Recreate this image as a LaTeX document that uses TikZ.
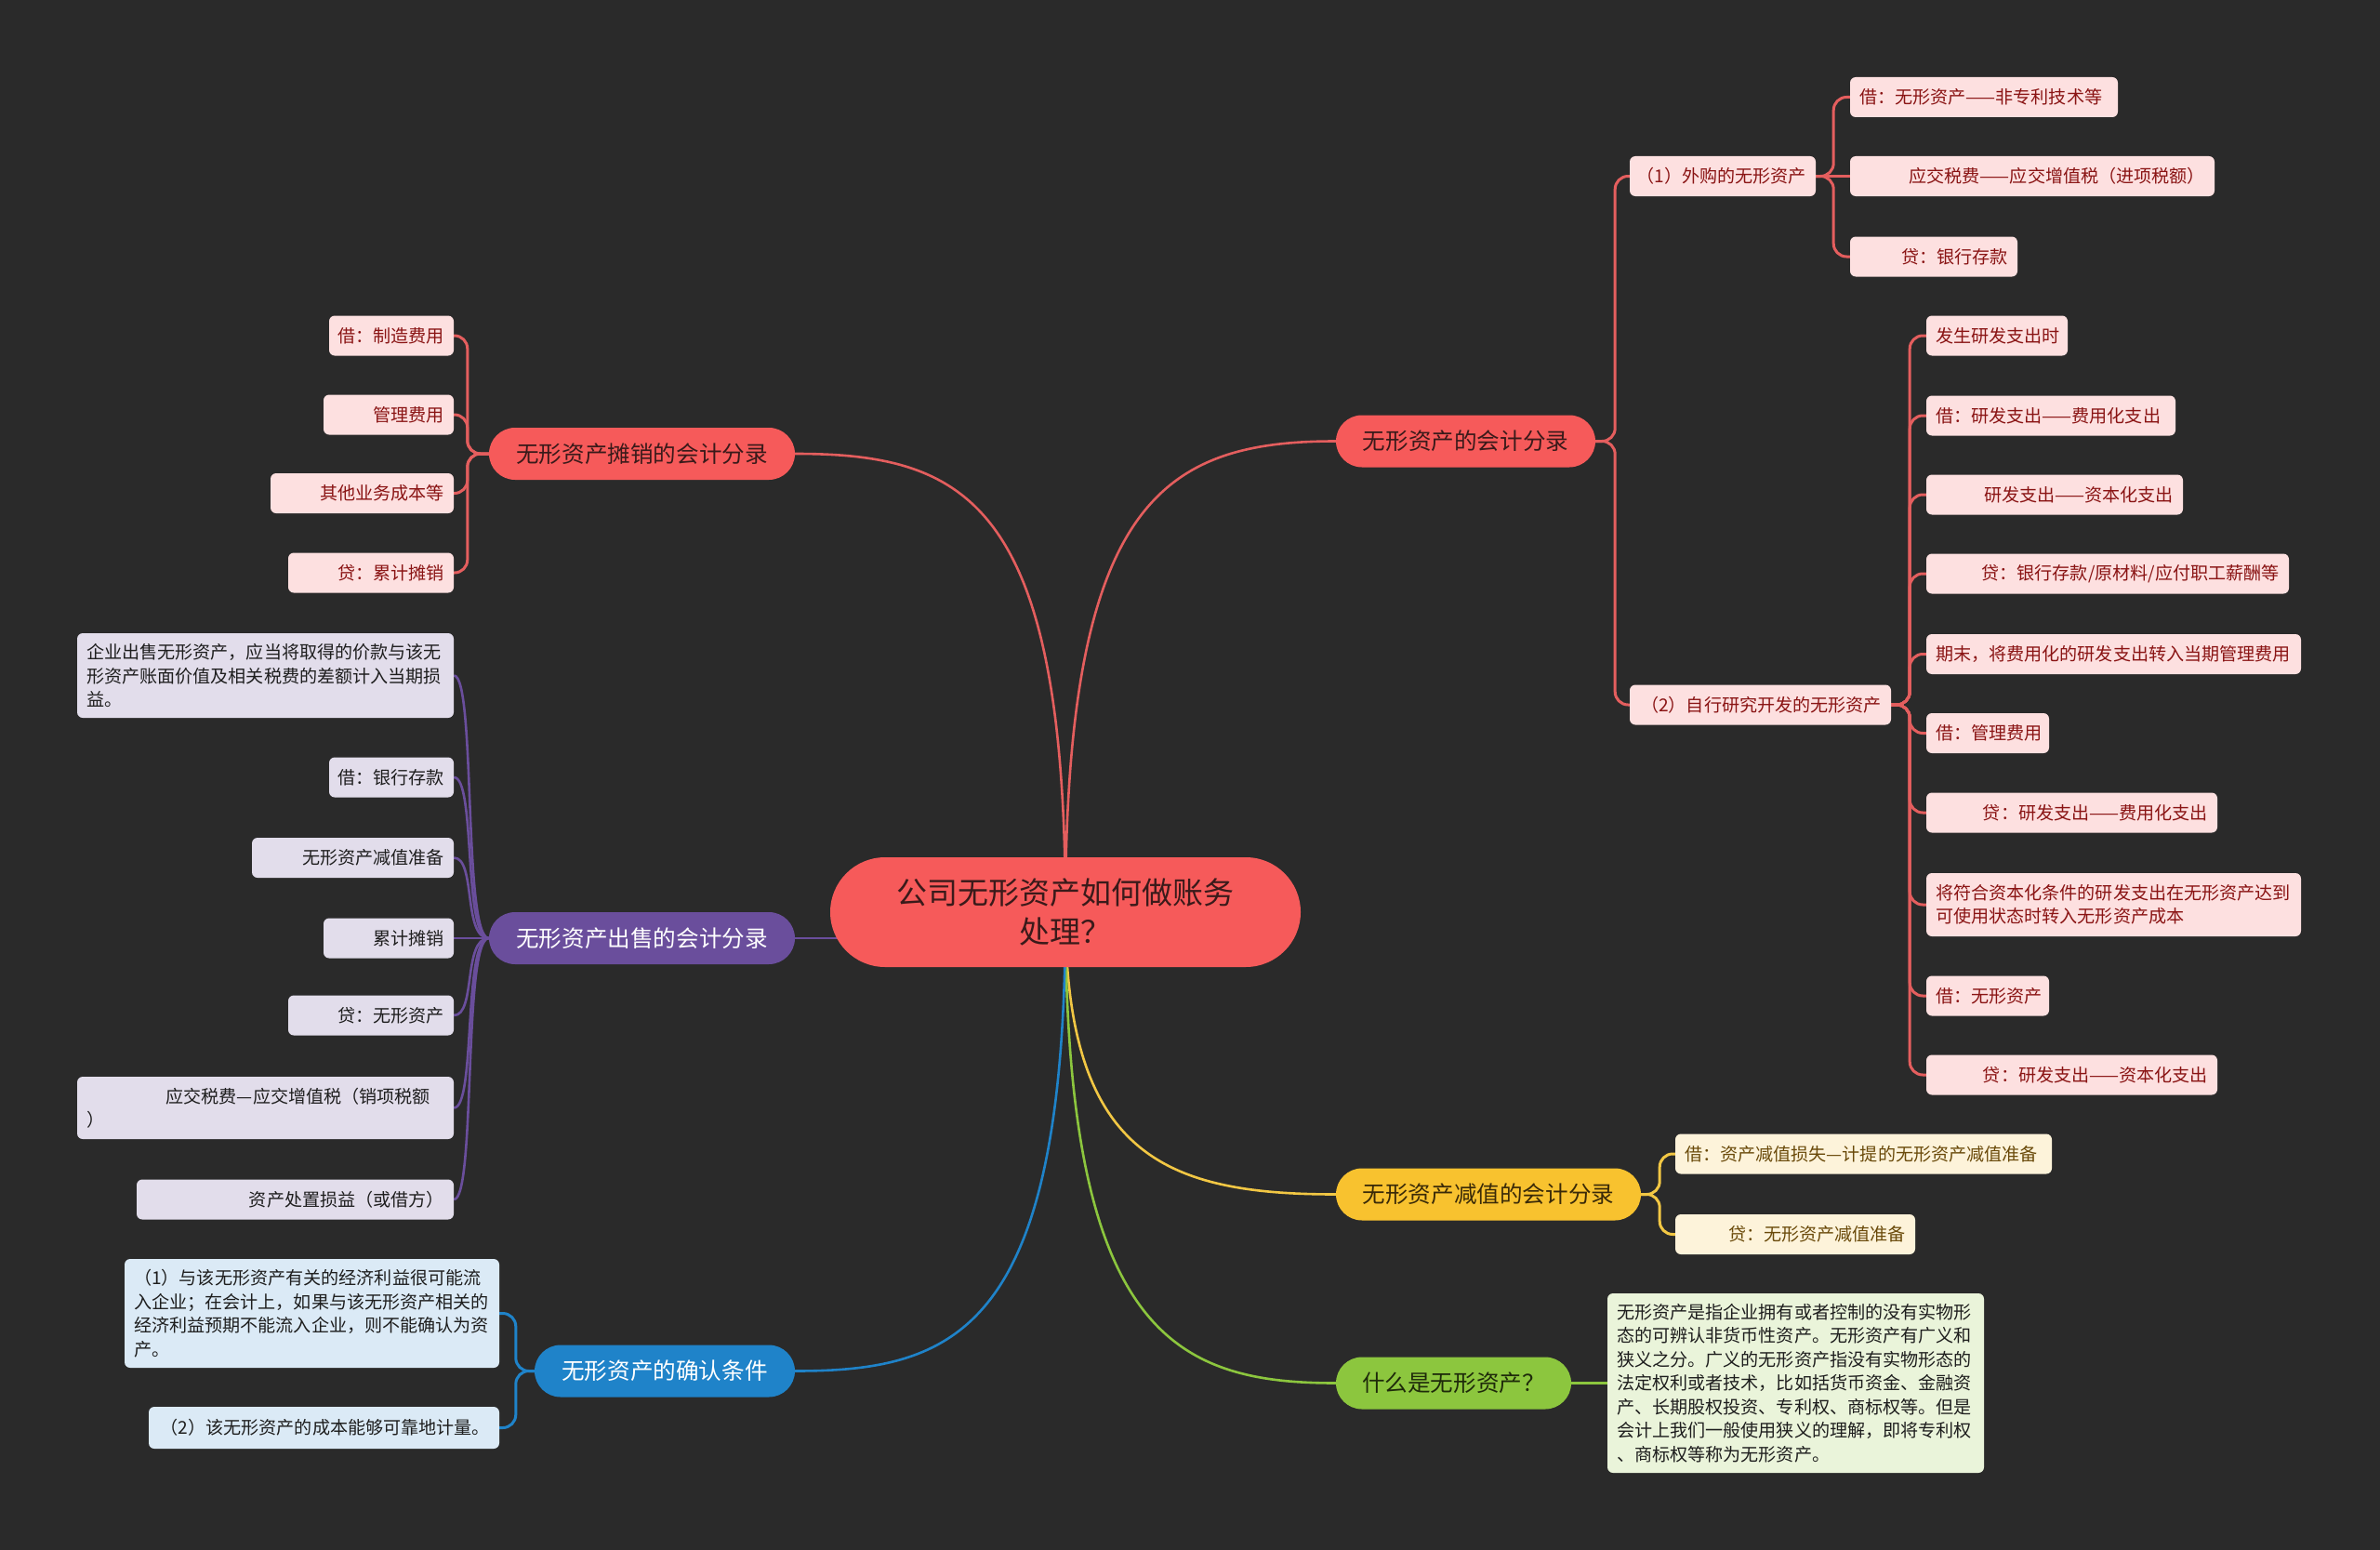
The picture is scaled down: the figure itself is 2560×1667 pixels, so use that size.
\documentclass[tikz,border=0pt]{standalone}
\usepackage{fontspec}
\setmainfont{Noto Sans CJK SC}
\pgfdeclarelayer{backdrop}
\pgfdeclarelayer{bg}
\pgfsetlayers{backdrop,bg,main}
\definecolor{cBg}{HTML}{2A2A2A}
\definecolor{cRed}{HTML}{F65A5A}
\definecolor{cRedLine}{HTML}{E45E5E}
\definecolor{cRedDark}{HTML}{3A1A1A}
\definecolor{cRedFill}{HTML}{FDE0E0}
\definecolor{cRedText}{HTML}{8A1414}
\definecolor{cPur}{HTML}{6A4E9C}
\definecolor{cPurFill}{HTML}{E2DDEB}
\definecolor{cBlue}{HTML}{1F83C9}
\definecolor{cBlueFill}{HTML}{DBEAF6}
\definecolor{cYel}{HTML}{F8C22F}
\definecolor{cYelLine}{HTML}{F2C744}
\definecolor{cYelDark}{HTML}{3A2A08}
\definecolor{cYelFill}{HTML}{FDF3DA}
\definecolor{cYelText}{HTML}{6A4A0A}
\definecolor{cGrn}{HTML}{8CC63E}
\definecolor{cGrnDark}{HTML}{1E2A0A}
\definecolor{cGrnFill}{HTML}{EAF4DA}
\definecolor{cDarkText}{HTML}{1E1E1E}
\newcommand\leaffont{\fontsize{19.1pt}{25.5pt}\selectfont}
\newcommand\topicfont{\fontsize{24.6pt}{30pt}\selectfont}
\newcommand\rootfont{\fontsize{33pt}{42pt}\selectfont}
\newcommand\myr[2]{\makebox[#1pt][r]{#2}}
\newcommand\myl[2]{\makebox[#1pt][l]{#2}}
\tikzset{
  rootnode/.style={fill=cRed, text=cRedDark, rounded corners=59pt, minimum width=506pt, minimum height=118pt, align=center, font=\rootfont, inner sep=0pt},
  topic/.style={rounded corners=28pt, minimum height=56pt, inner sep=0pt, font=\topicfont},
  leaf/.style={rounded corners=6pt, inner xsep=10pt, inner ysep=0pt, font=\leaffont, minimum height=43pt},
  redleaf/.style={leaf, fill=cRedFill, text=cRedText},
  purleaf/.style={leaf, fill=cPurFill, text=cDarkText},
  blueleaf/.style={leaf, fill=cBlueFill, text=cDarkText},
  yelleaf/.style={leaf, fill=cYelFill, text=cYelText},
  grnleaf/.style={leaf, fill=cGrnFill, text=cDarkText},
  curve/.style={line width=2.6pt},
  branch/.style={line width=3pt, rounded corners=14pt},
}
\begin{document}
\begin{tikzpicture}[x=1pt,y=-1pt]
\begin{pgfonlayer}{backdrop}
\fill[cBg] (0,0) rectangle (2560,1667);
\end{pgfonlayer}
\useasboundingbox (0,0) rectangle (2560,1667);

% root
\node[rootnode] (root) at (1146,981) {公司无形资产如何做账务\\处理？};

% topics
\node[topic, fill=cRed, text=cRedDark, minimum width=329pt] (t1) at (690.5,488) {无形资产摊销的会计分录};
\node[topic, fill=cPur, text=white, minimum width=329pt] (t2) at (690.5,1009) {无形资产出售的会计分录};
\node[topic, fill=cBlue, text=white, minimum width=280pt] (t3) at (715,1474.5) {无形资产的确认条件};
\node[topic, fill=cRed, text=cRedDark, minimum width=279pt] (t4) at (1576.5,474.5) {无形资产的会计分录};
\node[topic, fill=cYel, text=cYelDark, minimum width=328pt] (t5) at (1601,1284.5) {无形资产减值的会计分录};
\node[topic, fill=cGrn, text=cGrnDark, minimum width=253pt] (t6) at (1563.5,1487.5) {什么是无形资产？};

% right red: level 2
\node[redleaf] (n1) at (1853,189.5) {\myr{180}{（1）外购的无形资产}};
\node[redleaf] (n2) at (1893.5,758) {\myr{261}{（2）自行研究开发的无形资产}};

% under (1)
\node[redleaf] (a1) at (2134,104.5) {\myl{268}{借：无形资产——非专利技术等}};
\node[redleaf] (a2) at (2186,189.5) {\myr{372}{应交税费——应交增值税（进项税额）}};
\node[redleaf] (a3) at (2080,276) {\myr{160}{贷：银行存款}};

% under (2)
\node[redleaf] (b1) at (2148,361) {\myl{132}{发生研发支出时}};
\node[redleaf] (b2) at (2206,447) {\myl{248}{借：研发支出——费用化支出}};
\node[redleaf] (b3) at (2210,532) {\myr{256}{研发支出——资本化支出}};
\node[redleaf] (b4) at (2267,617) {\myr{370}{贷：银行存款/原材料/应付职工薪酬等}};
\node[redleaf] (b5) at (2273.5,703.5) {\myl{383}{期末，将费用化的研发支出转入当期管理费用}};
\node[redleaf] (b6) at (2138,788.5) {\myl{112}{借：管理费用}};
\node[redleaf] (b7) at (2228.5,874) {\myr{293}{贷：研发支出——费用化支出}};
\node[redleaf, minimum height=68pt, text width=383pt, align=left] (b8) at (2273.5,973) {将符合资本化条件的研发支出在无形资产达到\\可使用状态时转入无形资产成本};
\node[redleaf] (b9) at (2138,1071) {\myl{112}{借：无形资产}};
\node[redleaf] (b10) at (2228.5,1156) {\myr{293}{贷：研发支出——资本化支出}};

% yellow
\node[yelleaf] (y1) at (2004.5,1241) {\myl{385}{借：资产减值损失—计提的无形资产减值准备}};
\node[yelleaf] (y2) at (1931,1327.5) {\myr{238}{贷：无形资产减值准备}};

% green
\node[grnleaf, minimum height=193pt, text width=385pt, align=left] (g1) at (1931.5,1487.5) {无形资产是指企业拥有或者控制的没有实物形\\态的可辨认非货币性资产。无形资产有广义和\\狭义之分。广义的无形资产指没有实物形态的\\法定权利或者技术，比如括货币资金、金融资\\产、长期股权投资、专利权、商标权等。但是\\会计上我们一般使用狭义的理解，即将专利权\\、商标权等称为无形资产。};

% left red
\node[redleaf] (l1) at (421,361) {\myr{114}{借：制造费用}};
\node[redleaf] (l2) at (418,446) {\myr{120}{管理费用}};
\node[redleaf] (l3) at (389.5,530.5) {\myr{177}{其他业务成本等}};
\node[redleaf] (l4) at (399,616) {\myr{158}{贷：累计摊销}};

% purple
\node[purleaf, minimum height=91pt, text width=385pt, align=left] (p1) at (285.5,726.5) {企业出售无形资产，应当将取得的价款与该无\\形资产账面价值及相关税费的差额计入当期损\\益。};
\node[purleaf] (p2) at (421,836) {\myr{114}{借：银行存款}};
\node[purleaf] (p3) at (379.5,922.5) {\myr{197}{无形资产减值准备}};
\node[purleaf] (p4) at (418,1009) {\myr{120}{累计摊销}};
\node[purleaf] (p5) at (399,1092) {\myr{158}{贷：无形资产}};
\node[purleaf, minimum height=67pt, text width=385pt, align=left] (p6) at (285.5,1191.5) {\myr{370}{应交税费—应交增值税（销项税额}\\）};
\node[purleaf] (p7) at (317.5,1290) {\myr{321}{资产处置损益（或借方）}};

% blue
\node[blueleaf, minimum height=117pt, text width=383pt, align=left] (c1) at (335.5,1412.5) {（1）与该无形资产有关的经济利益很可能流\\入企业；在会计上，如果与该无形资产相关的\\经济利益预期不能流入企业，则不能确认为资\\产。};
\node[blueleaf, minimum height=45pt] (c2) at (348.5,1535.5) {\myr{357}{（2）该无形资产的成本能够可靠地计量。}};

\begin{pgfonlayer}{bg}
% root to topics
\draw[curve, cRedLine] (root.center) .. controls (1146,540) and (1040,488) .. (t1.east);
\draw[curve, cRedLine] (root.center) .. controls (1146,540) and (1250,474.5) .. (t4.west);
\draw[curve, cPur] (root.center) |- (t2.east);
\draw[curve, cYelLine] (root.center) .. controls (1146,1240) and (1250,1284.5) .. (t5.west);
\draw[curve, cGrn] (root.center) .. controls (1146,1430) and (1260,1487.5) .. (t6.west);
\draw[curve, cBlue] (root.center) .. controls (1146,1430) and (1030,1474.5) .. (t3.east);

% left red branches
\foreach \n in {l1,l2,l3,l4}
  \draw[branch, cRedLine] (t1.west) -- ++(-23,0) |- (\n.east);
% purple branches (smooth curves)
\foreach \n in {p1,p2,p3,p4,p5,p6,p7}
  \draw[curve, line width=2.6pt, cPur] (\n.east) .. controls +(24,0) and +(-28,0) .. (t2.west);
% blue branches
\foreach \n in {c1,c2}
  \draw[branch, cBlue] (t3.west) -- ++(-20,0) |- (\n.east);
% right red
\foreach \n in {n1,n2}
  \draw[branch, cRedLine] (t4.east) -- ++(21,0) |- (\n.west);
\foreach \n in {a1,a3}
  \draw[branch, cRedLine] (n1.east) -- ++(19,0) |- (\n.west);
\draw[branch, cRedLine] (n1.east) -- (a2.west);
\foreach \n in {b1,b2,b3,b4,b5,b6,b7,b8,b9,b10}
  \draw[branch, cRedLine] (n2.east) -- ++(20,0) |- (\n.west);
% yellow
\foreach \n in {y1,y2}
  \draw[branch, cYelLine] (t5.east) -- ++(20,0) |- (\n.west);
% green
\draw[branch, cGrn] (t6.east) -- (g1.west);
\end{pgfonlayer}
\end{tikzpicture}
\end{document}
